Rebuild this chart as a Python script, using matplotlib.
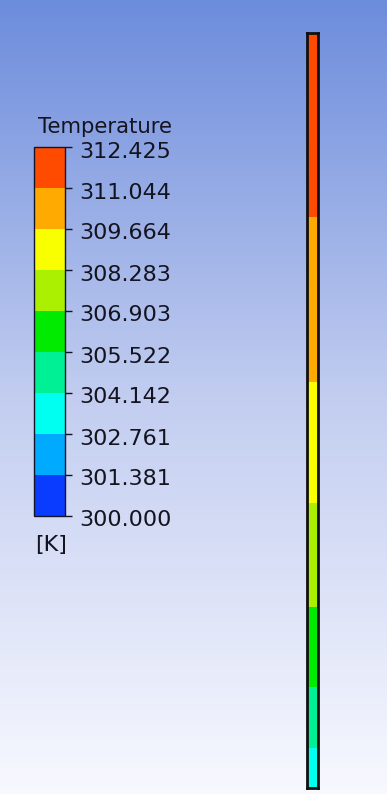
import numpy as np
import matplotlib
matplotlib.use("Agg")
import matplotlib.pyplot as plt
import matplotlib.transforms as mtransforms
from matplotlib.colors import ListedColormap, BoundaryNorm, LinearSegmentedColormap
from matplotlib.ticker import FixedFormatter, FixedLocator

# Contour levels of the temperature legend [K]
levels = [300.000, 301.381, 302.761, 304.142, 305.522,
          306.903, 308.283, 309.664, 311.044, 312.425]
level_labels = ["300.000", "301.381", "302.761", "304.142", "305.522",
                "306.903", "308.283", "309.664", "311.044", "312.425"]
band_colors = ["#0a3cff", "#00aaff", "#00fff0", "#00f096", "#00eb00",
               "#aaf000", "#faff00", "#ffaa00", "#ff4b00"]

# Temperature along the tube (station = fraction of length from the bottom)
station = [0.000, 0.053, 0.134, 0.240, 0.377, 0.538, 0.756, 1.000]
temperature = [303.30, 304.142, 305.522, 306.903, 308.283, 309.664, 311.044, 312.40]

W, H, DPI = 387, 794, 100
fig = plt.figure(figsize=(W / DPI, H / DPI), dpi=DPI)

def px_axes(x0, y0, x1, y1, **kw):
    """Axes placed by pixel box (top-left origin)."""
    return fig.add_axes([x0 / W, 1 - y1 / H, (x1 - x0) / W, (y1 - y0) / H], **kw)

# Graduated viewport background
bg = fig.add_axes([0, 0, 1, 1], zorder=-10)
bg_cmap = LinearSegmentedColormap.from_list(
    "bg", [(0.0, "#6c8cdc"), (0.5, "#c2cdf0"), (1.0, "#f8f9ff")])
bg.imshow(np.linspace(0, 1, 256)[:, None], aspect="auto", cmap=bg_cmap,
          extent=[0, 1, 0, 1], origin="upper")
bg.set_axis_off()

cmap = ListedColormap(band_colors)
norm = BoundaryNorm(levels, cmap.N)

# Legend colour bar
cax = px_axes(34, 147, 65, 516)
cb = fig.colorbar(plt.cm.ScalarMappable(norm=norm, cmap=cmap), cax=cax,
                  spacing="proportional")
cb.set_ticks(FixedLocator(levels))
cb.formatter = FixedFormatter(level_labels)
cb.minorticks_off()
cb.outline.set_edgecolor("#141428")
cb.outline.set_linewidth(1.0)
cax.tick_params(axis="y", length=5, width=1, color="#141428", pad=5,
                labelsize=16, labelcolor="#141420", direction="out")
# labels sit slightly below their tick marks
shift = mtransforms.ScaledTranslation(0, -2.5 / DPI, fig.dpi_scale_trans)
for tick in cax.yaxis.get_major_ticks():
    tick.label2.set_transform(tick.label2.get_transform() + shift)
for t in cax.get_yticklabels():
    t.set_fontfamily("DejaVu Sans")

fig.text(38 / W, 1 - 133 / H, "Temperature", fontsize=15.3, color="#141420",
         family="DejaVu Sans", ha="left", va="baseline")
fig.text(35 / W, 1 - 545 / H, "[K]", fontsize=16, color="#141420",
         family="DejaVu Sans", ha="left", va="center")

# Tube contour
tax = px_axes(307, 33, 318, 788)
xs = np.array([0.0, 1.0])
Xg, Yg = np.meshgrid(xs, np.array(station))
Tg = np.repeat(np.array(temperature)[:, None], 2, axis=1)
tax.contourf(Xg, Yg, Tg, levels=levels, cmap=cmap, norm=norm)
tax.set_xlim(0, 1)
tax.set_ylim(0, 1)
tax.set_xticks([])
tax.set_yticks([])
for s in tax.spines.values():
    s.set_edgecolor("#101010")
    s.set_linewidth(2.0)

fig.savefig("out.png", dpi=DPI)
